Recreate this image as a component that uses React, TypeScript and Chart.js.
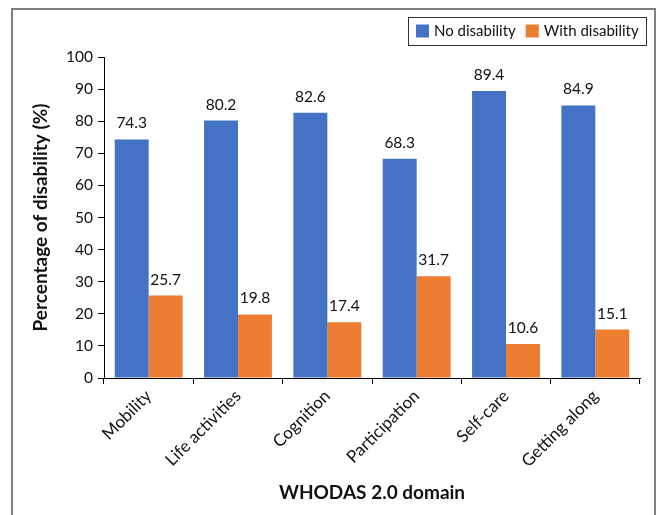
import React, { useEffect, useRef } from "react";
import { Chart, registerables } from "chart.js";

Chart.register(...registerables);

const categories = ["Mobility", "Life activities", "Cognition", "Participation", "Self-care", "Getting along"];
const noDisability = [74.3, 80.2, 82.6, 68.3, 89.4, 84.9];
const withDisability = [25.7, 19.8, 17.4, 31.7, 10.6, 15.1];
const seriesNames = ["No disability", "With disability"];
const seriesColors = ["#4472C4", "#ED7D31"];
const yTitle = "Percentage of disability (%)";
const xTitle = "WHODAS 2.0 domain";

const FONT = "Lato, 'Open Sans', sans-serif";

const framePlugin = {
  id: "frame",
  afterDraw(chart: any) {
    const ctx = chart.ctx;
    ctx.save();
    ctx.strokeStyle = "#7f7f7f";
    ctx.lineWidth = 2;
    ctx.beginPath();
    ctx.moveTo(12, 515);
    ctx.lineTo(12, 9);
    ctx.lineTo(655, 9);
    ctx.lineTo(655, 515);
    ctx.stroke();
    ctx.restore();
  },
};

const labelPlugin = {
  id: "valueLabels",
  afterDatasetsDraw(chart: any) {
    const ctx = chart.ctx;
    ctx.save();
    ctx.font = `15.5px ${FONT}`;
    ctx.fillStyle = "#111";
    ctx.textAlign = "center";
    ctx.textBaseline = "alphabetic";
    chart.data.datasets.forEach((ds: any, i: number) => {
      const meta = chart.getDatasetMeta(i);
      meta.data.forEach((bar: any, j: number) => {
        ctx.fillText(String(ds.data[j]), bar.x, bar.y - 11);
      });
    });
    ctx.restore();
  },
};

const legendPlugin = {
  id: "boxLegend",
  afterDraw(chart: any) {
    const ctx = chart.ctx;
    ctx.save();
    const left = 408, top = 17, right = 647, bottom = 46;
    ctx.fillStyle = "#fff";
    ctx.fillRect(left, top, right - left, bottom - top);
    ctx.strokeStyle = "#333";
    ctx.lineWidth = 1;
    ctx.strokeRect(left + 0.5, top + 0.5, right - left - 1, bottom - top - 1);
    ctx.font = `15px ${FONT}`;
    ctx.textBaseline = "middle";
    ctx.textAlign = "left";
    let x = left + 8;
    const cy = (top + bottom) / 2;
    chart.data.datasets.forEach((ds: any) => {
      ctx.fillStyle = ds.backgroundColor;
      ctx.fillRect(x, cy - 7, 13, 13);
      x += 18;
      ctx.fillStyle = "#111";
      ctx.fillText(ds.label, x, cy);
      x += ctx.measureText(ds.label).width + 10;
    });
    ctx.restore();
  },
};

export default function App() {
  const ref = useRef<HTMLCanvasElement>(null);
  useEffect(() => {
    if (!ref.current) return;
    const chart = new Chart(ref.current, {
      type: "bar",
      data: {
        labels: categories,
        datasets: [
          { label: seriesNames[0], data: noDisability, backgroundColor: seriesColors[0] },
          { label: seriesNames[1], data: withDisability, backgroundColor: seriesColors[1] },
        ],
      },
      options: {
        responsive: false,
        animation: false,
        devicePixelRatio: 1,
        layout: { padding: { left: 0, right: 20, top: 57, bottom: 0 } },
        datasets: { bar: { categoryPercentage: 0.76, barPercentage: 1 } },
        plugins: {
          legend: { display: false },
          tooltip: { enabled: false },
        },
        scales: {
          x: {
            grid: { display: true, drawOnChartArea: false, drawTicks: true, tickLength: 6, color: "#000", offset: true },
            border: { display: true, color: "#000", width: 1 },
            ticks: {
              color: "#111",
              font: { family: FONT, size: 17 },
              minRotation: 45,
              maxRotation: 45,
              padding: 2,
              autoSkip: false,
            },
            title: {
              display: true,
              text: xTitle,
              color: "#111",
              font: { family: FONT, size: 19, weight: "bold" },
              padding: { top: 0, bottom: 11 },
            },
            afterFit(scale: any) {
              scale.height = 137;
            },
          },
          y: {
            min: 0,
            max: 100,
            ticks: { stepSize: 10, color: "#111", font: { family: FONT, size: 15.5 }, padding: 5 },
            grid: { display: true, drawOnChartArea: false, drawTicks: true, tickLength: 6, color: "#000" },
            border: { display: true, color: "#000", width: 1 },
            title: {
              display: true,
              text: yTitle,
              color: "#111",
              font: { family: FONT, size: 19, weight: "bold" },
              padding: { top: 29, bottom: 0 },
            },
            afterFit(scale: any) {
              scale.width = 104;
            },
          },
        },
      },
      plugins: [labelPlugin, legendPlugin, framePlugin],
    } as any);
    return () => chart.destroy();
  }, []);
  return (
    <div style={{ position: "fixed", left: 0, top: 0, width: 660, height: 515, background: "#fff" }}>
      <canvas ref={ref} width={660} height={515} style={{ display: "block" }} />
    </div>
  );
}
